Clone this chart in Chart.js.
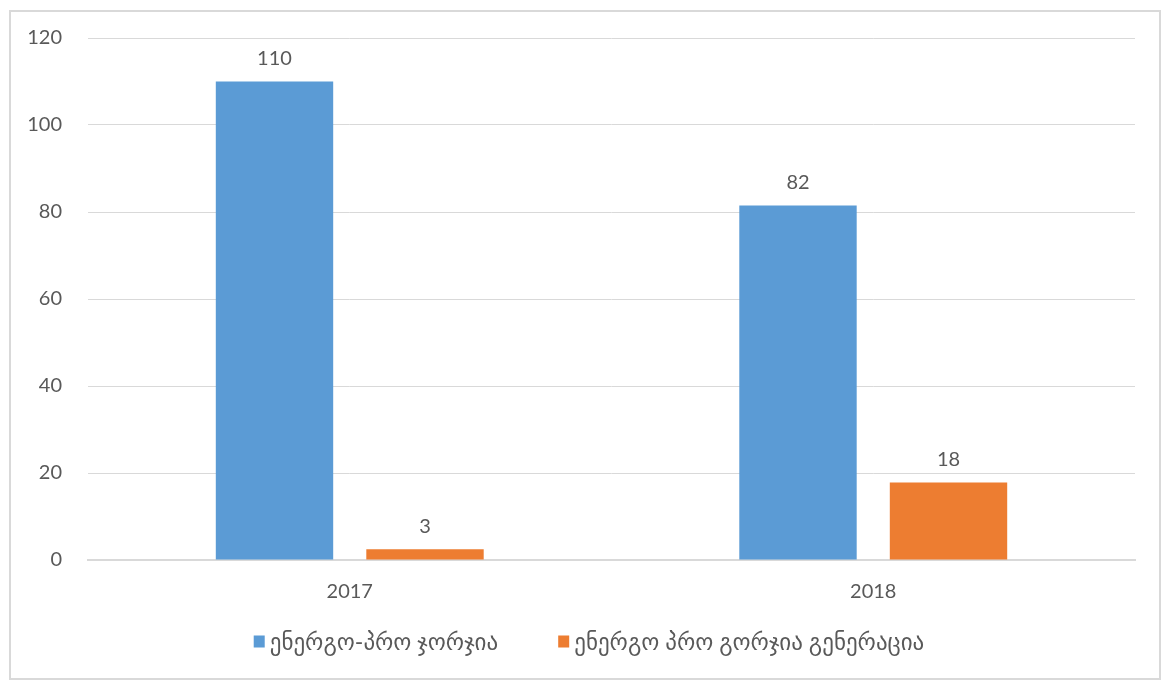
<!DOCTYPE html>
<html><head><meta charset="utf-8">
<script src="https://cdn.jsdelivr.net/npm/chart.js@4.4.1/dist/chart.umd.min.js"></script>
<style>html,body{margin:0;padding:0;background:#fff}#wrap{width:1170px;height:680px;position:relative}</style>
</head><body><div id="wrap"><canvas id="c" width="1170" height="680"></canvas></div>
<script>
const categories = ["2017", "2018"];
const seriesNames = ["ენერგო-პრო ჯორჯია", "ენერგო პრო გორჯია გენერაცია"];
const seriesA = [110, 81.5];
const seriesB = [2.5, 17.8];
const labelsA = ["110", "82"];
const labelsB = ["3", "18"];
const yTicks = [0, 20, 40, 60, 80, 100, 120];

const FONT = "Lato, 'DejaVu Sans', sans-serif";
const TXT = "#595959";

const frame = {
  id: 'frame',
  beforeDraw(chart) {
    const ctx = chart.ctx;
    ctx.save();
    ctx.fillStyle = '#fff';
    ctx.fillRect(0, 0, chart.width, chart.height);
    ctx.strokeStyle = '#d9d9d9';
    ctx.lineWidth = 2;
    ctx.strokeRect(10, 11, 1150, 668);
    ctx.restore();
  }
};
const valueLabels = {
  id: 'valueLabels',
  afterDatasetsDraw(chart) {
    const ctx = chart.ctx;
    const texts = [labelsA, labelsB];
    ctx.save();
    ctx.font = "20px " + FONT;
    ctx.fillStyle = TXT;
    ctx.textAlign = 'center';
    ctx.textBaseline = 'bottom';
    chart.data.datasets.forEach((ds, i) => {
      chart.getDatasetMeta(i).data.forEach((bar, j) => {
        ctx.fillText(texts[i][j], bar.x, bar.y - 13);
      });
    });
    ctx.restore();
  }
};
const bottomLegend = {
  id: 'bottomLegend',
  afterDraw(chart) {
    const ctx = chart.ctx;
    const ds = chart.data.datasets;
    ctx.save();
    ctx.font = "23px " + FONT;
    ctx.textBaseline = 'middle';
    ctx.textAlign = 'left';
    const box = 11, gapText = 5, gapItem = 60, cy = 642, centerX = 589;
    const widths = ds.map(d => box + gapText + ctx.measureText(d.label).width);
    const total = widths.reduce((a, b) => a + b, 0) + gapItem * (ds.length - 1);
    let x = centerX - total / 2;
    ds.forEach((d, i) => {
      ctx.fillStyle = d.backgroundColor;
      ctx.fillRect(x, cy - box / 2 - 1, box, box + 1);
      ctx.fillStyle = TXT;
      ctx.fillText(d.label, x + box + gapText, cy + 1);
      x += widths[i] + gapItem;
    });
    ctx.restore();
  }
};

new Chart(document.getElementById('c'), {
  type: 'bar',
  data: {
    labels: categories,
    datasets: [
      { label: seriesNames[0], data: seriesA, backgroundColor: '#5b9bd5' },
      { label: seriesNames[1], data: seriesB, backgroundColor: '#ed7d31' }
    ]
  },
  options: {
    responsive: false,
    animation: false,
    devicePixelRatio: 1,
    categoryPercentage: 0.575,
    barPercentage: 0.78,
    layout: { padding: { top: 30, right: 35, left: 0, bottom: 56 } },
    plugins: {
      tooltip: { enabled: false },
      legend: { display: false }
    },
    scales: {
      x: {
        grid: { display: false, drawTicks: false },
        border: { display: true, color: '#d9d9d9', width: 2 },
        ticks: { color: TXT, font: { size: 20, family: FONT }, padding: 20 }
      },
      y: {
        min: 0, max: 120,
        afterBuildTicks(scale) { scale.ticks = yTicks.map(v => ({ value: v })); },
        afterFit(scale) { scale.width = 88; },
        grid: { color: '#d9d9d9', lineWidth: 1, drawTicks: false },
        border: { display: false },
        ticks: { color: TXT, font: { size: 20, family: FONT }, padding: 26 }
      }
    }
  },
  plugins: [frame, valueLabels, bottomLegend]
});
</script></body></html>
